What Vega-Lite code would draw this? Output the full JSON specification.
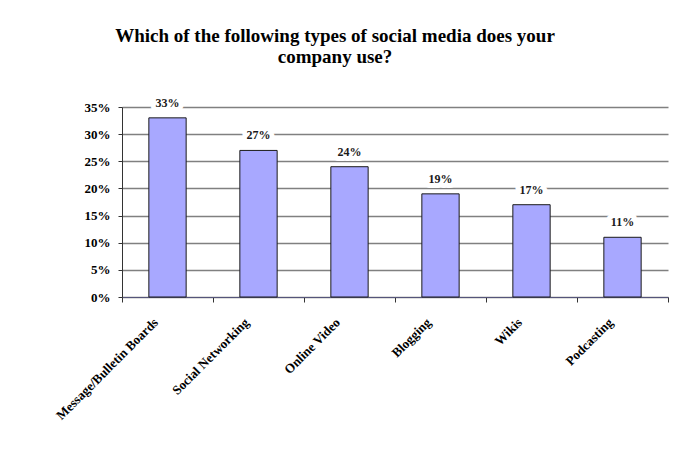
{
  "$schema": "https://vega.github.io/schema/vega-lite/v6.json",
  "width": 546,
  "height": 190,
  "autosize": "none",
  "padding": {"left": 122, "top": 107, "right": 8, "bottom": 158},
  "background": "white",
  "config": {"view": {"stroke": null}, "font": "Liberation Serif"},
  "title": {
    "text": ["Which of the following types of social media does your", "company use?"],
    "font": "Liberation Serif",
    "fontSize": 19,
    "fontWeight": "bold",
    "color": "black",
    "anchor": "middle",
    "dx": -60,
    "offset": 30,
    "lineHeight": 21
  },
  "data": {
    "values": [
      {"type": "Message/Bulletin Boards", "pct": 0.33},
      {"type": "Social Networking", "pct": 0.27},
      {"type": "Online Video", "pct": 0.24},
      {"type": "Blogging", "pct": 0.19},
      {"type": "Wikis", "pct": 0.17},
      {"type": "Podcasting", "pct": 0.11}
    ]
  },
  "encoding": {
    "x": {
      "field": "type",
      "type": "nominal",
      "sort": null,
      "scale": {"paddingInner": 0, "paddingOuter": 0},
      "axis": {
        "title": null,
        "labelAngle": -45,
        "labelAlign": "right",
        "labelBaseline": "middle",
        "labelFont": "Liberation Serif",
        "labelFontSize": 13,
        "labelFontWeight": "bold",
        "labelColor": "black",
        "labelPadding": 18,
        "labelOffset": -12,
        "tickBand": "extent",
        "tickSize": 5,
        "tickColor": "#333333",
        "domainColor": "#55557a",
        "grid": false
      }
    },
    "y": {
      "field": "pct",
      "type": "quantitative",
      "scale": {"domain": [0, 0.35]},
      "axis": {
        "title": null,
        "format": ".0%",
        "values": [0, 0.05, 0.1, 0.15, 0.2, 0.25, 0.3, 0.35],
        "labelFont": "Liberation Serif",
        "labelFontSize": 13,
        "labelFontWeight": "bold",
        "labelColor": "black",
        "labelPadding": 8,
        "tickSize": 4,
        "tickColor": "#333333",
        "domainColor": "#333333",
        "gridColor": "#808080",
        "gridWidth": 1.5
      }
    }
  },
  "layer": [
    {
      "mark": {"type": "bar", "width": {"band": 0.41}, "fill": "#A8A8FF", "stroke": "#1a1a1a", "strokeWidth": 1}
    },
    {
      "mark": {"type": "text", "baseline": "middle", "dy": -15, "font": "Liberation Serif", "fontSize": 12, "fontWeight": "bold", "fill": "white", "stroke": "white", "strokeWidth": 10, "strokeJoin": "round"},
      "encoding": {"text": {"field": "pct", "type": "quantitative", "format": ".0%"}}
    },
    {
      "mark": {"type": "text", "baseline": "middle", "dy": -15, "font": "Liberation Serif", "fontSize": 12, "fontWeight": "bold", "fill": "#1a1a1a"},
      "encoding": {"text": {"field": "pct", "type": "quantitative", "format": ".0%"}}
    }
  ]
}
